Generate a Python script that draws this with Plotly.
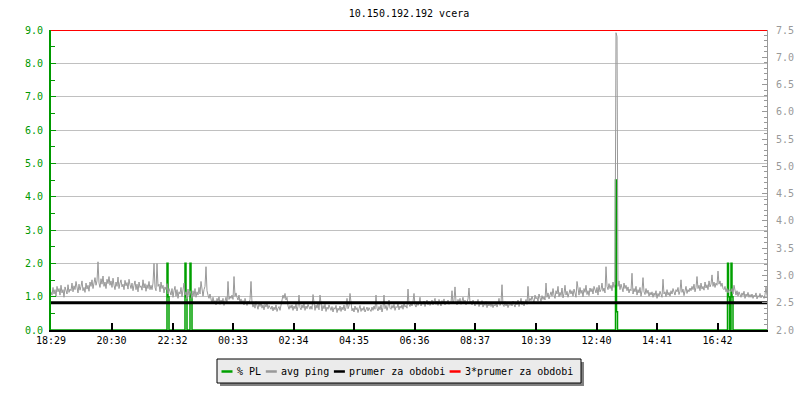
import pandas as pd
import plotly.graph_objects as go

# ---------------- data ----------------
title_text = "10.150.192.192 vcera"
start_time = "2024-05-13 18:29"
sample_minutes = 2
span_minutes = 1432
x_tick_labels = ["18:29", "20:30", "22:32", "00:33", "02:34", "04:35",
                 "06:36", "08:37", "10:39", "12:40", "14:41", "16:42"]

# avg ping [ms], one value every 2 minutes (right axis)
avg_ping_ms = [
    2.70, 2.64, 2.78, 2.66, 2.74, 2.62, 2.80, 2.70, 2.76, 2.64, 2.82, 2.68, 2.74, 2.60, 2.79, 2.71, 2.66, 2.83, 2.69, 2.75,
    2.72, 2.86, 2.70, 2.81, 2.74, 2.89, 2.76, 2.68, 2.84, 2.73, 2.80, 2.90, 2.72, 2.78, 2.69, 2.86, 2.75, 2.82, 2.71, 2.88,
    2.80, 2.92, 2.76, 2.88, 2.96, 2.82, 2.90, 3.25, 2.86, 2.78, 2.94, 2.84, 2.99, 2.80, 2.88, 2.76, 2.93, 2.85, 2.98, 2.82,
    2.90, 2.78, 2.95, 2.82, 2.74, 2.88, 2.80, 2.97, 2.76, 2.86, 2.92, 2.79, 2.84, 2.74, 2.91, 2.81, 2.87, 2.75, 2.93, 2.83,
    2.76, 2.86, 2.72, 2.82, 2.90, 2.74, 2.84, 2.70, 2.88, 2.78, 2.81, 2.73, 2.92, 2.77, 2.85, 2.71, 2.83, 2.76, 2.89, 2.74,
    2.82, 2.74, 2.86, 3.22, 2.78, 2.72, 3.22, 2.80, 2.84, 2.70, 2.88, 2.76, 2.82, 2.68, 2.79, 2.74, 2.85, 2.66, 2.76, 2.70,
    2.64, 2.76, 2.60, 2.72, 2.80, 2.62, 2.74, 2.58, 2.70, 2.66, 2.78, 2.61, 2.73, 2.86, 2.64, 2.70, 2.57, 2.75, 2.63, 2.72,
    2.66, 2.58, 2.72, 2.62, 2.76, 2.60, 2.70, 2.64, 2.78, 2.66, 2.89, 2.70, 2.62, 2.74, 2.80, 3.16, 2.72, 2.64, 2.58, 2.66,
    2.56, 2.48, 2.60, 2.50, 2.54, 2.46, 2.58, 2.52, 2.61, 2.47, 2.55, 2.50, 2.58, 2.45, 2.53, 2.60, 2.49, 2.89, 2.56, 2.62,
    2.58, 2.64, 2.56, 2.98, 2.62, 2.68, 2.60, 2.55, 2.64, 2.50, 2.57, 2.48, 2.54, 2.46, 2.58, 2.50, 2.45, 2.53, 2.48, 2.56,
    2.89, 2.50, 2.42, 2.48, 2.40, 2.52, 2.44, 2.38, 2.49, 2.43, 2.51, 2.40, 2.46, 2.37, 2.47, 2.42, 2.50, 2.39, 2.45, 2.41,
    2.38, 2.44, 2.35, 2.42, 2.37, 2.46, 2.34, 2.40, 2.43, 2.36, 2.45, 2.56, 2.64, 2.58, 2.67, 2.55, 2.60, 2.44, 2.38, 2.45,
    2.40, 2.46, 2.36, 2.44, 2.39, 2.48, 2.35, 2.43, 2.64, 2.41, 2.37, 2.46, 2.40, 2.48, 2.36, 2.44, 2.39, 2.47, 2.42, 2.38,
    2.44, 2.38, 2.65, 2.42, 2.36, 2.46, 2.40, 2.48, 2.37, 2.64, 2.43, 2.35, 2.45, 2.39, 2.47, 2.34, 2.42, 2.38, 2.46, 2.40,
    2.36, 2.43, 2.33, 2.41, 2.38, 2.45, 2.32, 2.40, 2.36, 2.44, 2.34, 2.42, 2.37, 2.46, 2.35, 2.41, 2.58, 2.39, 2.44, 2.67,
    2.42, 2.35, 2.40, 2.33, 2.44, 2.37, 2.41, 2.32, 2.39, 2.45, 2.34, 2.40, 2.36, 2.43, 2.33, 2.38, 2.42, 2.35, 2.41, 2.37,
    2.34, 2.42, 2.36, 2.44, 2.38, 2.64, 2.40, 2.35, 2.43, 2.37, 2.46, 2.33, 2.41, 2.64, 2.39, 2.45, 2.36, 2.43, 2.55, 2.40,
    2.38, 2.45, 2.40, 2.47, 2.36, 2.43, 2.41, 2.48, 2.37, 2.44, 2.40, 2.46, 2.38, 2.50, 2.42, 2.45, 2.40, 2.75, 2.47, 2.43,
    2.50, 2.44, 2.52, 2.67, 2.46, 2.42, 2.51, 2.45, 2.49, 2.60, 2.44, 2.50, 2.47, 2.53, 2.43, 2.49, 2.55, 2.46, 2.52, 2.45,
    2.48, 2.55, 2.46, 2.52, 2.58, 2.47, 2.53, 2.45, 2.56, 2.50, 2.44, 2.54, 2.49, 2.57, 2.46, 2.52, 2.48, 2.55, 2.47, 2.51,
    2.50, 2.72, 2.48, 2.55, 2.79, 2.52, 2.46, 2.56, 2.50, 2.58, 2.47, 2.53, 2.60, 2.49, 2.55, 2.46, 2.52, 2.57, 2.77, 2.50,
    2.53, 2.46, 2.55, 2.48, 2.44, 2.52, 2.47, 2.56, 2.43, 2.50, 2.46, 2.54, 2.42, 2.49, 2.45, 2.52, 2.41, 2.48, 2.44, 2.51,
    2.43, 2.49, 2.41, 2.47, 2.44, 2.51, 2.42, 2.48, 2.58, 2.45, 2.50, 2.83, 2.46, 2.43, 2.52, 2.44, 2.49, 2.41, 2.47, 2.45,
    2.50, 2.44, 2.53, 2.47, 2.42, 2.51, 2.46, 2.55, 2.43, 2.49, 2.58, 2.46, 2.52, 2.44, 2.50, 2.56, 2.47, 2.80, 2.53, 2.58,
    2.54, 2.62, 2.56, 2.50, 2.64, 2.57, 2.60, 2.53, 2.66, 2.58, 2.52, 2.63, 2.56, 2.61, 2.55, 2.86, 2.60, 2.68, 2.57, 2.64,
    2.70, 2.62, 2.76, 2.64, 2.58, 2.72, 2.66, 2.80, 2.61, 2.69, 2.63, 2.77, 2.59, 2.67, 2.82, 2.64, 2.71, 2.60, 2.68, 2.74,
    2.66, 2.72, 2.62, 2.75, 2.68, 2.60, 2.89, 2.70, 2.64, 2.78, 2.67, 2.73, 2.61, 2.76, 2.69, 2.82, 2.65, 2.72, 2.63, 2.77,
    2.70, 2.76, 2.66, 2.80, 2.72, 2.68, 2.78, 2.64, 2.82, 2.70, 2.74, 2.86, 2.71, 2.77, 2.68, 3.16, 2.80, 2.74, 2.85, 2.76,
    2.82, 2.72, 2.88, 2.78, 2.84, 7.45, 7.38, 2.80, 2.90, 2.74, 2.84, 2.78, 2.70, 2.86, 2.76, 2.82, 2.72, 2.79, 2.68, 2.75,
    2.72, 3.04, 2.66, 2.76, 2.70, 2.80, 2.64, 2.74, 2.68, 2.78, 2.62, 2.72, 2.96, 2.70, 2.65, 2.76, 2.67, 2.73, 2.62, 2.69,
    2.64, 2.70, 2.60, 2.68, 2.63, 2.72, 2.58, 2.67, 2.62, 2.71, 2.65, 2.60, 2.93, 2.66, 2.70, 2.61, 2.74, 2.64, 2.69, 2.62,
    2.72, 2.66, 2.76, 2.68, 2.64, 2.74, 2.70, 2.78, 2.65, 2.71, 2.92, 2.69, 2.75, 2.63, 2.72, 2.80, 2.67, 2.74, 2.70, 2.77,
    2.72, 2.80, 2.74, 2.84, 2.70, 2.78, 2.98, 2.76, 2.82, 2.72, 2.86, 2.75, 2.80, 2.73, 2.88, 2.77, 2.83, 2.74, 2.90, 2.79,
    2.84, 3.01, 2.80, 2.88, 2.78, 2.86, 2.82, 3.08, 2.84, 2.90, 2.80, 2.86, 2.76, 2.74, 2.80, 2.70, 2.76, 2.68, 2.74, 2.72,
    2.70, 2.76, 2.66, 2.82, 2.68, 2.64, 2.72, 2.62, 2.70, 2.66, 2.60, 2.68, 2.63, 2.71, 2.58, 2.66, 2.62, 2.69, 2.60, 2.65,
    2.60, 2.66, 2.58, 2.64, 2.61, 2.68, 2.57, 2.63, 2.60, 2.67, 2.59, 2.64, 2.62, 2.58, 2.65, 2.79, 2.63,
]

# packet loss [%] (left axis), minutes after start
pl_offset_min = [0, 232, 234, 236, 268, 270, 272, 278, 280, 282,
                 1129, 1131, 1133, 1353, 1355, 1357, 1360, 1362, 1364, 1432]
pl_percent = [0, 2.0, 1.0, 0, 2.0, 1.0, 0, 2.0, 1.0, 0,
              4.5, 0.55, 0, 2.0, 1.0, 0, 2.0, 1.0, 0, 0]

prumer_ms = 2.5        # prumer za obdobi
tri_prumer_ms = 7.5    # 3*prumer za obdobi

series_names = ["% PL", "avg ping", "prumer za obdobi", "3*prumer za obdobi"]
series_colors = ["#00a000", "#999999", "#000000", "#ff0000"]

# ---------------- derived ----------------
t0 = pd.Timestamp(start_time)
ping_x = [t0 + pd.Timedelta(minutes=sample_minutes * i) for i in range(len(avg_ping_ms))]
pl_x = [t0 + pd.Timedelta(minutes=m) for m in pl_offset_min]
t_end = t0 + pd.Timedelta(minutes=span_minutes)

tickvals = []
for lab in x_tick_labels:
    t = pd.Timestamp(f"{t0.date()} {lab}")
    if t < t0:
        t += pd.Timedelta(days=1)
    tickvals.append(t)

FONT = "DejaVu Sans Mono"
GREEN_AX = "#009900"
GRAY_AX = "#999999"

fig = go.Figure()
fig.add_trace(go.Scatter(x=pl_x, y=pl_percent, mode="lines", line=dict(color=series_colors[0], width=1.5, shape="hv"),
                         name=series_names[0], yaxis="y", showlegend=False))
fig.add_trace(go.Scatter(x=ping_x, y=avg_ping_ms, mode="lines", line=dict(color=series_colors[1], width=1),
                         name=series_names[1], yaxis="y2", showlegend=False))
fig.add_trace(go.Scatter(x=[t0, t_end], y=[prumer_ms, prumer_ms], mode="lines",
                         line=dict(color=series_colors[2], width=3), name=series_names[2], yaxis="y2", showlegend=False))
fig.add_trace(go.Scatter(x=[t0, t_end], y=[tri_prumer_ms, tri_prumer_ms], mode="lines",
                         line=dict(color=series_colors[3], width=2), name=series_names[3], yaxis="y2", showlegend=False))

# ---------------- custom legend (rrdtool style) ----------------
L, R, T, B = 51, 33, 30, 70
W, H = 800, 400
pw, ph = W - L - R, H - T - B
def px(xp): return (xp - L) / pw
def py(yp): return (H - B - yp) / ph

shapes = []
annotations = []
box = (217, 359, 581, 383)
shapes.append(dict(type="rect", xref="paper", yref="paper", x0=px(box[0] + 3), x1=px(box[2] + 3),
                   y0=py(box[1] + 3), y1=py(box[3] + 3), fillcolor="#808080", line=dict(width=0), layer="above"))
shapes.append(dict(type="rect", xref="paper", yref="paper", x0=px(box[0]), x1=px(box[2]),
                   y0=py(box[1]), y1=py(box[3]), fillcolor="#ebebeb", line=dict(color="black", width=1), layer="above"))
cx = 221.5
cy = 371.5
for name, col in zip(series_names, series_colors):
    shapes.append(dict(type="line", xref="paper", yref="paper", x0=px(cx), x1=px(cx + 11), y0=py(cy), y1=py(cy),
                       line=dict(color=col, width=2.5), layer="above"))
    annotations.append(dict(text=name, xref="paper", yref="paper", x=px(cx + 14.5), y=py(cy - 0.5),
                            xanchor="left", yanchor="middle", showarrow=False, borderpad=0,
                            font=dict(family=FONT, size=10, color="black")))
    cx += 14.5 + len(name) * 5.95 + 6

fig.update_layout(
    width=W, height=H,
    margin=dict(l=L, r=R, t=T, b=B, autoexpand=False),
    paper_bgcolor="white", plot_bgcolor="white",
    font=dict(family=FONT, size=10, color="black"),
    title=dict(text=title_text, x=0.5, xref="paper", y=1 - 13.5 / H, yanchor="middle", yref="container",
               automargin=False, font=dict(family=FONT, size=10, color="black")),
    showlegend=False,
    xaxis=dict(type="date", range=[t0, t_end], tickvals=tickvals, ticktext=x_tick_labels, automargin=False,
               showgrid=False, zeroline=False, showline=True, linecolor="black", linewidth=2,
               ticks="inside", ticklen=7, tickwidth=2, tickcolor="black",
               tickfont=dict(family=FONT, size=10, color="black")),
    yaxis=dict(range=[0, 9], dtick=1, tick0=0, tickformat=".1f", showgrid=True, gridcolor="#c0c0c0", gridwidth=1,
               zeroline=False, showline=True, linecolor=GREEN_AX, linewidth=2, automargin=False,
               ticks="inside", ticklen=5, tickcolor=GREEN_AX, ticklabelstandoff=4,
               minor=dict(dtick=0.5, ticks="inside", ticklen=4, tickcolor=GREEN_AX, showgrid=False),
               tickfont=dict(family=FONT, size=10, color=GREEN_AX)),
    yaxis2=dict(range=[2, 7.5], dtick=0.5, tick0=2, tickformat=".1f", overlaying="y", side="right",
                showgrid=False, zeroline=False, showline=True, linecolor=GRAY_AX, linewidth=1, automargin=False,
                ticks="inside", ticklen=5, tickcolor=GRAY_AX, ticklabelstandoff=6,
                minor=dict(dtick=0.1, ticks="inside", ticklen=3, tickcolor=GRAY_AX, showgrid=False),
                tickfont=dict(family=FONT, size=10, color=GRAY_AX)),
    shapes=shapes,
    annotations=annotations,
)

fig.write_html("out.html", config={"displayModeBar": False},
               post_script="document.body.style.margin='0';document.body.style.padding='0';document.body.style.overflow='hidden';")
